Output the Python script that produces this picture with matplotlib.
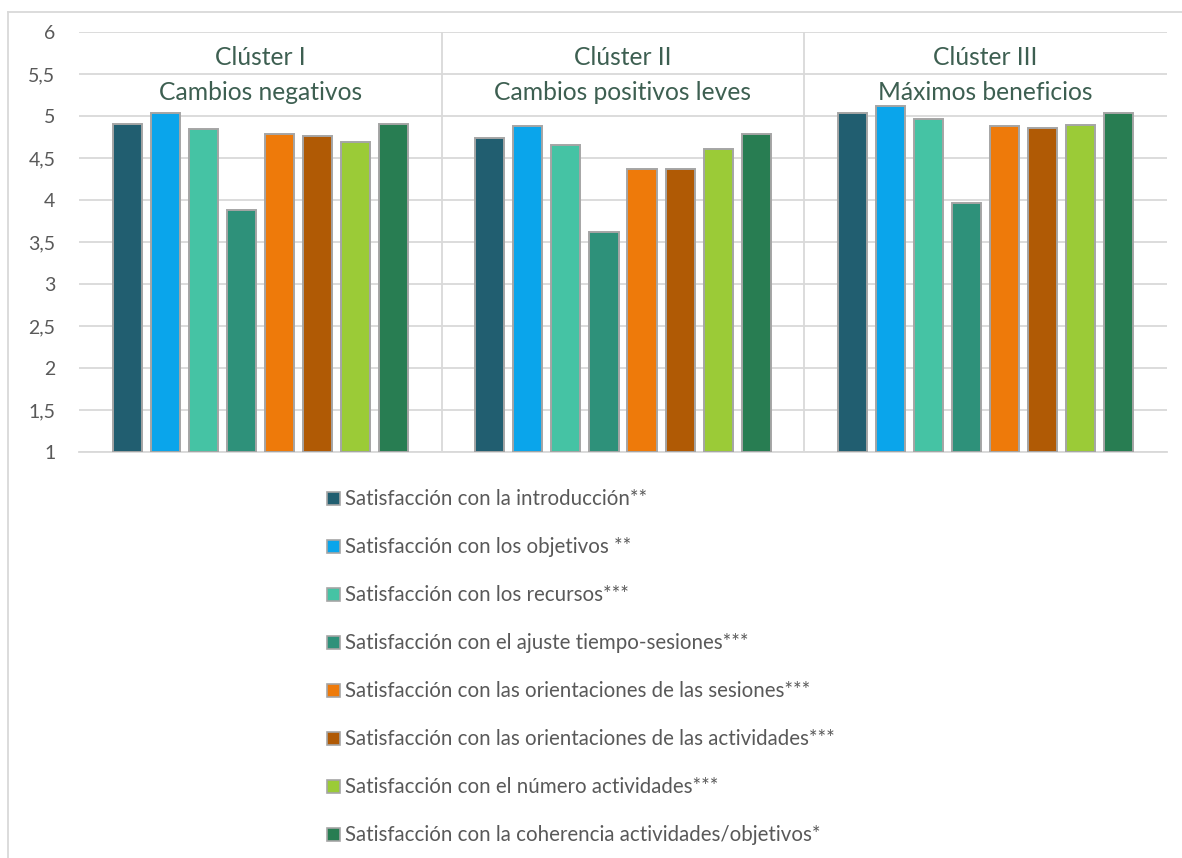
import matplotlib
matplotlib.use("Agg")
import matplotlib.pyplot as plt
from matplotlib.patches import Rectangle
from matplotlib.lines import Line2D
import numpy as np

plt.rcParams['font.family'] = ['Lato', 'DejaVu Sans']

clusters = ["Clúster I\nCambios negativos",
            "Clúster II\nCambios positivos leves",
            "Clúster III\nMáximos beneficios"]
series = [
    "Satisfacción con la introducción**",
    "Satisfacción con los objetivos **",
    "Satisfacción con los recursos***",
    "Satisfacción con el ajuste tiempo-sesiones***",
    "Satisfacción con las orientaciones de las sesiones***",
    "Satisfacción con las orientaciones de las actividades***",
    "Satisfacción con el número actividades***",
    "Satisfacción con la coherencia actividades/objetivos*",
]
# one row per series, one value per cluster
values = [
    [4.91, 4.74, 5.04],
    [5.04, 4.88, 5.12],
    [4.85, 4.65, 4.97],
    [3.88, 3.62, 3.96],
    [4.79, 4.37, 4.88],
    [4.76, 4.37, 4.86],
    [4.69, 4.61, 4.89],
    [4.91, 4.79, 5.03],
]
colors = ["#215e70", "#0aa5eb", "#45c3a4", "#2e917a",
          "#ee7a0a", "#b05a05", "#9bcb37", "#287d52"]
yticks = [1, 1.5, 2, 2.5, 3, 3.5, 4, 4.5, 5, 5.5, 6]
ytick_labels = ["1", "1,5", "2", "2,5", "3", "3,5", "4", "4,5", "5", "5,5", "6"]

W, H = 1182, 858
fig = plt.figure(figsize=(W / 100, H / 100), dpi=100)
ax = fig.add_axes([79 / W, 1 - 452 / H, (1167 - 79) / W, (452 - 32) / H])

grid_c = "#d9d9d9"
text_c = "#595959"
step = 0.1048
x = np.arange(len(clusters))
bars = []
for k, (name, vals, col) in enumerate(zip(series, values, colors)):
    b = ax.bar(x + (k - 3.5) * step, np.array(vals) - 1, bottom=1, width=0.08,
               color=col, edgecolor="#a5a5a5", linewidth=1.4, label=name, zorder=3)
    bars.append(b)

ax.set_xlim(-0.5, 2.5)
ax.set_ylim(1, 6)
ax.set_yticks(yticks)
ax.set_yticklabels(ytick_labels)
ax.set_xticks([])
ax.tick_params(axis="y", length=0, pad=17, labelsize=14, labelcolor=text_c)
ax.yaxis.grid(True, color=grid_c, linewidth=1.3, zorder=0)
for s in ["top", "left", "right"]:
    ax.spines[s].set_visible(False)
ax.spines["bottom"].set_color(grid_c)
ax.spines["bottom"].set_linewidth(1.3)
for sep in [0.5, 1.5]:
    ax.axvline(sep, color=grid_c, linewidth=1.3, zorder=0)

# cluster headers
for i, lab in enumerate(clusters):
    top, bottom = lab.split("\n")
    ax.text(i, 5.607, top, ha="center", va="baseline", fontsize=17.7, color="#3d5f51")
    ax.text(i, 5.19, bottom, ha="center", va="baseline", fontsize=17.7, color="#3d5f51")

# legend, stacked below the plot
for i, (name, col) in enumerate(zip(series, colors)):
    yb = 505 + i * 48
    fig.add_artist(Rectangle((327 / W, 1 - yb / H), 13 / W, 13 / H,
                             transform=fig.transFigure, facecolor=col,
                             edgecolor="#a5a5a5", linewidth=1.2))
    fig.text(345 / W, 1 - yb / H, name, ha="left", va="baseline",
             fontsize=14.8, color=text_c)

# chart frame
fig.add_artist(Line2D([8 / W, 8 / W], [0, 1 - 12 / H], transform=fig.transFigure,
                      color=grid_c, linewidth=1.3))
fig.add_artist(Line2D([8 / W, 1], [1 - 12 / H, 1 - 12 / H], transform=fig.transFigure,
                      color=grid_c, linewidth=1.3))

fig.savefig("out.png", dpi=100, facecolor="white")
